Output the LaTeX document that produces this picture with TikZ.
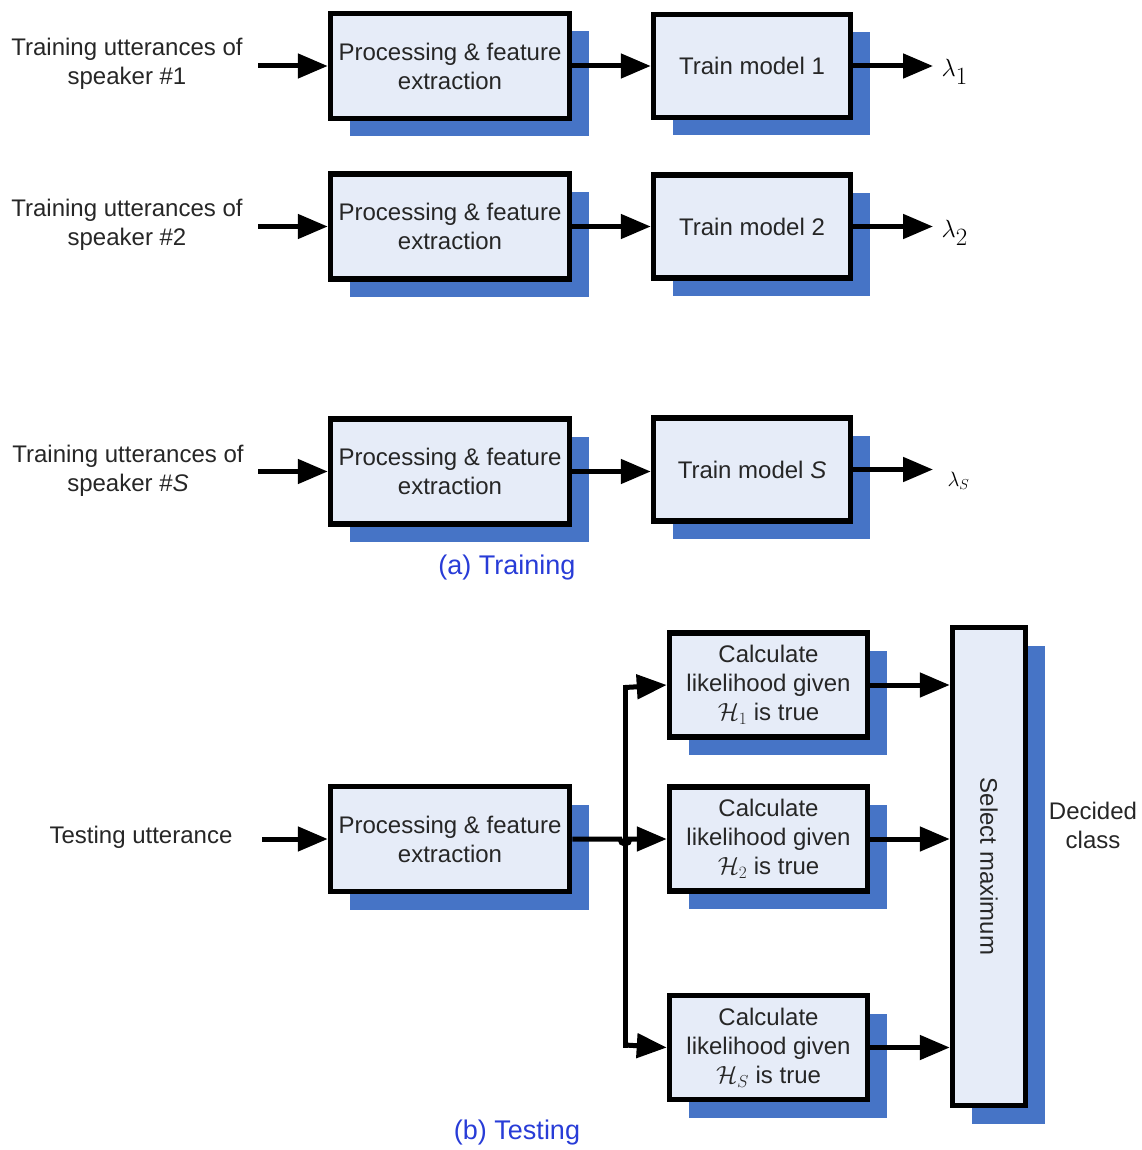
\documentclass[tikz,border=0pt]{standalone}
\usepackage{fontspec}
\setmainfont{Liberation Sans}
\usepackage{amsmath}
\usetikzlibrary{arrows.meta,shadows,calc}
\definecolor{boxfill}{RGB}{230,236,248}
\definecolor{shadowblue}{RGB}{70,116,198}
\definecolor{captionblue}{RGB}{40,60,215}
\definecolor{txt}{RGB}{38,38,38}
\begin{document}
\begin{tikzpicture}[x=1pt,y=-1pt,
  every node/.style={font=\fontsize{24}{29}\selectfont, text=txt, align=center},
  block/.style={draw=black, line width=5.5pt, fill=boxfill, inner sep=0pt,
    general shadow={fill=shadowblue, rounded corners=3pt, shadow xshift=19pt, shadow yshift=-18pt}},
  procbox/.style={block, minimum width=239pt, minimum height=105pt},
  trainbox/.style={block, minimum width=197pt, minimum height=103pt},
  calcbox/.style={block, minimum width=198pt, minimum height=104pt},
  arr/.style={line width=5pt, -{Triangle[length=30pt,width=24pt]}},
  wire/.style={line width=5pt},
  caption/.style={font=\fontsize{27}{32}\selectfont, text=captionblue},
  lam/.style={font=\fontsize{38}{40}\selectfont, text=black}
]
\useasboundingbox (0,0) rectangle (1141,1150);

% ---------- training ----------
\node (lab1) at (127,64) {Training utterances of\\speaker \#1};
\node (lab2) at (127,225) {Training utterances of\\speaker \#2};
\node (labS) at (128,471) {Training utterances of\\speaker \#\textit{S}};

\node[procbox] (p1) at (450,66) {Processing \& feature\\extraction};
\node[procbox] (p2) at (450,226.5) {Processing \& feature\\extraction};
\node[procbox] (pS) at (450,471.5) {Processing \& feature\\extraction};

\node[trainbox] (t1) at (752,66) {Train model 1};
\node[trainbox] (t2) at (752,226.5) {Train model 2};
\node[trainbox] (tS) at (752,469.5) {Train model \textit{S}};

\coordinate (in1) at (258,66);
\coordinate (in2) at (258,226.5);
\coordinate (inS) at (258,471.5);
\coordinate (o1) at (933,66);
\coordinate (o2) at (933,226.5);
\coordinate (oS) at (933,469.5);

\node[lam, anchor=west] (l1) at (938,72) {$\lambda_1$};
\node[lam, anchor=west] (l2) at (938,233) {$\lambda_2$};
\node[anchor=west, font=\fontsize{20}{24}\selectfont, text=black] (lS) at (944,481) {$\lambda_S$};

\foreach \r in {1,2,S} {
  \draw[arr] (in\r) -- (p\r.west);
  \draw[arr] (p\r.east) -- (p\r.east -| t\r.west);
  \draw[arr] (t\r.east) -- (o\r);
}

\node[caption] (capa) at (507,568) {(a) Training};

% ---------- testing ----------
\node (labT) at (141,837) {Testing utterance};
\coordinate (inT) at (262,839);
\node[procbox] (pT) at (450,839) {Processing \& feature\\extraction};

\node[calcbox] (c1) at (768.5,685) {Calculate\\likelihood given\\$\mathcal{H}_1$ is true};
\node[calcbox] (c2) at (768.5,839) {Calculate\\likelihood given\\$\mathcal{H}_2$ is true};
\node[calcbox] (cS) at (768.5,1047.5) {Calculate\\likelihood given\\$\mathcal{H}_S$ is true};

\node[block, minimum width=73pt, minimum height=478pt] (sel) at (989,866.5) {};
\node[rotate=-90] (seltext) at (sel.center) {Select maximum};

\node (dec) at (1093,825) {Decided\\class};

\coordinate (jtop) at (625,685);
\coordinate (jbot) at (625,1047.5);

\draw[arr] (inT) -- (pT.west);
% feed line with a small hop over the vertical bus
\draw[arr] (pT.east) -- (620,839) arc[start angle=180, end angle=0, radius=5] -- (c2.west);
\draw[wire] (jbot) -- (jtop);
\draw[arr] ($(jtop)+(0,2.5)$) -- (c1.west);
\draw[arr] ($(jbot)+(0,-2.5)$) -- (cS.west);

\draw[arr] (c1.east) -- (c1.east -| sel.west);
\draw[arr] (c2.east) -- (c2.east -| sel.west);
\draw[arr] (cS.east) -- (cS.east -| sel.west);

\node[caption] (capb) at (517,1133) {(b) Testing};
\end{tikzpicture}
\end{document}
